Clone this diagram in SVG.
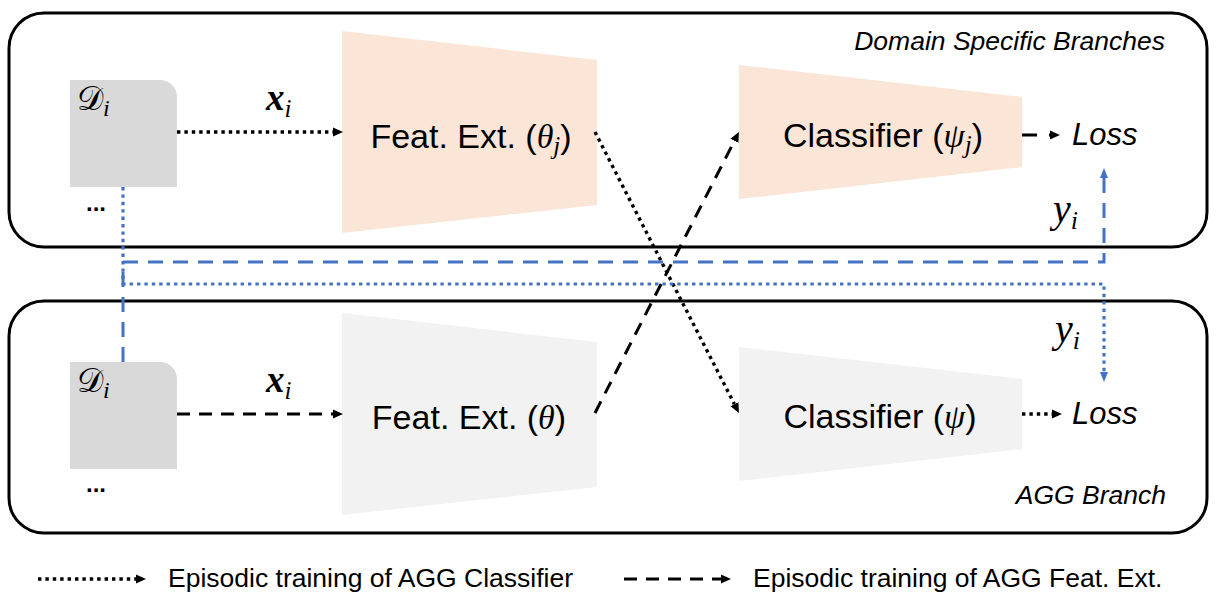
<svg xmlns="http://www.w3.org/2000/svg" width="1217" height="603" viewBox="0 0 1217 603">
<style>
  .box{fill:none;stroke:#000;stroke-width:3}
  .data{fill:#d9d9d9}
  .peach{fill:#fbe5d6}
  .grey{fill:#f2f2f2}
  .lbl{font-family:"Liberation Sans",Arial,sans-serif;font-size:34px;fill:#000}
  .m{font-family:"Liberation Serif","Times New Roman",serif;font-style:italic}
  .it{font-family:"Liberation Sans",Arial,sans-serif;font-style:italic;fill:#000}
  .leg{font-family:"Liberation Sans",Arial,sans-serif;font-size:26.5px;fill:#000}
  .dots{font-family:"Liberation Sans",Arial,sans-serif;font-weight:bold;font-size:24px;fill:#000}
  .dot{fill:none;stroke:#000;stroke-width:3.4;stroke-dasharray:3.4 4}
  .dash{fill:none;stroke:#000;stroke-width:3;stroke-dasharray:13 9}
  .bdash{fill:none;stroke:#4472c4;stroke-width:3;stroke-dasharray:15 10}
  .bdot{fill:none;stroke:#4472c4;stroke-width:3.2;stroke-dasharray:3.4 4}
</style>
<defs>
  <marker id="ah" markerUnits="userSpaceOnUse" markerWidth="10" markerHeight="10" refX="0" refY="5" orient="auto">
    <path d="M0,0.5 L10,5 L0,9.5 z" fill="#000"/>
  </marker>
  <marker id="ahb" markerUnits="userSpaceOnUse" markerWidth="10" markerHeight="10" refX="0" refY="5" orient="auto">
    <path d="M0,1 L10,5 L0,9 z" fill="#4472c4"/>
  </marker>
</defs>

<g id="domain-branches">
  <rect class="box" x="9" y="13" width="1198" height="234" rx="35"/>
  <text class="it" x="1165" y="50" font-size="26.5" text-anchor="end">Domain Specific Branches</text>
</g>
<g id="agg-branch">
  <rect class="box" x="9" y="301" width="1198" height="232" rx="35"/>
  <text class="it" x="1166" y="504" font-size="26.5" text-anchor="end">AGG Branch</text>
</g>

<g id="data-top">
  <path class="data" d="M70,80 H160 A17,17 0 0 1 177,97 V187 H70 Z"/>
  <text x="77" y="110" font-size="33" font-family="DejaVu Sans,DejaVu Serif,serif">𝒟<tspan class="m" font-size="24" dy="6">i</tspan></text>
  <text class="dots" x="86" y="211">...</text>
</g>
<g id="data-bottom">
  <path class="data" d="M70,362 H160 A17,17 0 0 1 177,379 V469 H70 Z"/>
  <text x="77" y="392" font-size="33" font-family="DejaVu Sans,DejaVu Serif,serif">𝒟<tspan class="m" font-size="24" dy="6">i</tspan></text>
  <text class="dots" x="86" y="492">...</text>
</g>

<g id="feat-top">
  <polygon class="peach" points="342,31 597,60 597,205 342,233"/>
  <text class="lbl" x="471" y="148" text-anchor="middle">Feat. Ext. (<tspan class="m">θ</tspan><tspan class="m" font-size="25" dy="6">j</tspan><tspan dy="-6">)</tspan></text>
</g>
<g id="cls-top">
  <polygon class="peach" points="739,65 1022,97 1022,167 739,199"/>
  <text class="lbl" x="883" y="147" text-anchor="middle">Classifier (<tspan class="m">ψ</tspan><tspan class="m" font-size="25" dy="6">j</tspan><tspan dy="-6">)</tspan></text>
</g>
<g id="loss-top">
  <text class="it" x="1072" y="145" font-size="31">Loss</text>
</g>

<g id="feat-bottom">
  <polygon class="grey" points="342,313 597,342 597,487 342,515"/>
  <text class="lbl" x="469" y="429" text-anchor="middle">Feat. Ext. (<tspan class="m">θ</tspan>)</text>
</g>
<g id="cls-bottom">
  <polygon class="grey" points="739,347 1022,379 1022,449 739,481"/>
  <text class="lbl" x="880" y="428" text-anchor="middle">Classifier (<tspan class="m">ψ</tspan>)</text>
</g>
<g id="loss-bottom">
  <text class="it" x="1072" y="424" font-size="31">Loss</text>
</g>

<g id="labels">
  <text x="266" y="110" font-family="Liberation Serif,serif" font-style="italic" font-weight="bold" font-size="37">x<tspan font-weight="normal" font-size="25" dy="7">i</tspan></text>
  <text x="266" y="392" font-family="Liberation Serif,serif" font-style="italic" font-weight="bold" font-size="37">x<tspan font-weight="normal" font-size="25" dy="7">i</tspan></text>
  <text class="m" x="1053" y="222" font-size="40">y<tspan font-size="26" dy="7">i</tspan></text>
  <text class="m" x="1055" y="342" font-size="40">y<tspan font-size="26" dy="7">i</tspan></text>
</g>

<g id="connectors">
  <line class="dot" x1="177" y1="132" x2="333" y2="132" marker-end="url(#ah)"/>
  <line class="dash" x1="177" y1="414" x2="333" y2="414" marker-end="url(#ah)"/>
  <line class="dot" x1="595" y1="132" x2="734.4" y2="404.1" marker-end="url(#ah)"/>
  <line class="dash" x1="595" y1="413" x2="734.4" y2="140.9" marker-end="url(#ah)"/>
  <line class="dash" x1="1022" y1="135" x2="1050" y2="135" style="stroke-dasharray:15 12" marker-end="url(#ah)"/>
  <line class="dot" x1="1022" y1="414" x2="1052" y2="414" marker-end="url(#ah)"/>
  <path class="bdash" d="M123,362 V262 H1104 V178" marker-end="url(#ahb)"/>
  <path class="bdot" d="M123,187 V284 H1104 V372" marker-end="url(#ahb)"/>
</g>

<g id="legend">
  <line class="dot" x1="38" y1="579" x2="136" y2="579" marker-end="url(#ah)"/>
  <text class="leg" x="168" y="587">Episodic training of AGG Classifier</text>
  <line class="dash" x1="624" y1="579" x2="721" y2="579" marker-end="url(#ah)"/>
  <text class="leg" x="753" y="587">Episodic training of AGG Feat. Ext.</text>
</g>
</svg>
